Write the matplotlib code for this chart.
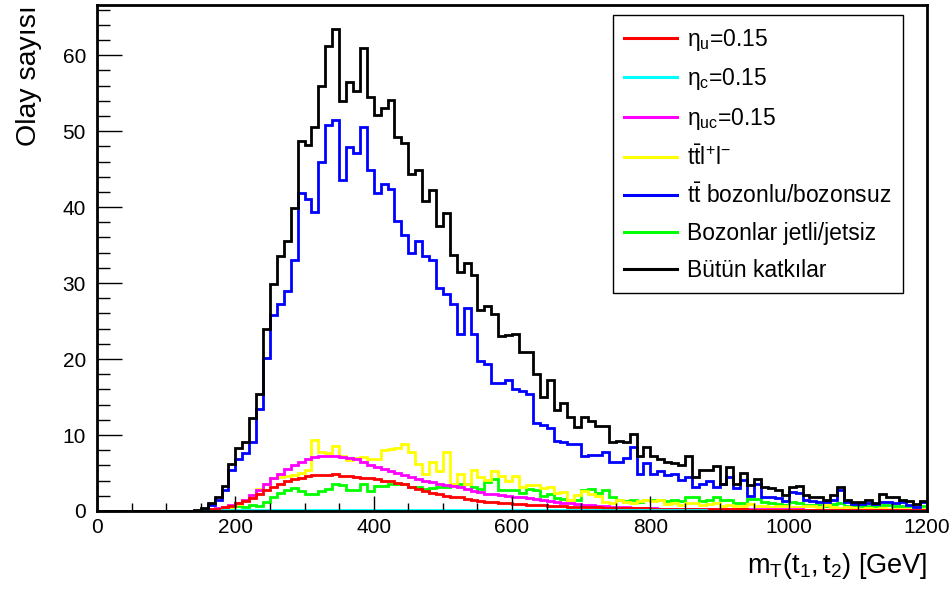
import numpy as np
import matplotlib
matplotlib.use("Agg")
import matplotlib.pyplot as plt
from matplotlib.ticker import MultipleLocator
from matplotlib.lines import Line2D

plt.rcParams['font.family'] = ['Liberation Sans', 'DejaVu Sans']
plt.rcParams['mathtext.fontset'] = 'custom'
plt.rcParams['mathtext.rm'] = 'Liberation Sans'
plt.rcParams['mathtext.it'] = 'Liberation Sans'
plt.rcParams['mathtext.bf'] = 'Liberation Sans:bold'

# 10 GeV bins from 0 to 1200 GeV
bin_edges = np.arange(0, 1210, 10)

eta_u = [0.0] * 15 + [
    0.1, 0.2, 0.3, 0.5, 0.7, 1.0, 1.3, 1.7, 2.2, 2.7,
    3.2, 3.6, 3.9, 4.2, 4.4, 4.6, 4.7, 4.8, 4.7, 4.9,
    4.6, 4.6, 4.5, 4.4, 4.3, 4.2, 4.0, 3.9, 3.7, 3.5,
    3.2, 2.9, 2.6, 2.4, 2.2, 2.0, 1.9, 1.8, 1.6, 1.5,
    1.35, 1.25, 1.15, 1.05, 1.0, 0.95, 0.9, 0.85, 0.8, 0.75,
    0.7, 0.66, 0.62, 0.58, 0.55, 0.52, 0.5, 0.47, 0.45, 0.42,
    0.4, 0.38, 0.36, 0.34, 0.33, 0.31, 0.3, 0.29, 0.28, 0.27,
    0.26, 0.25, 0.24, 0.23, 0.22, 0.22, 0.21, 0.2, 0.2, 0.19,
    0.18, 0.18, 0.17, 0.17, 0.16, 0.16, 0.15, 0.15, 0.14, 0.14,
    0.13, 0.13, 0.12, 0.12, 0.11, 0.11, 0.1, 0.1, 0.1, 0.09,
    0.09, 0.09, 0.08, 0.08, 0.08]

eta_c = [0.0] * 15 + [
    0.02, 0.04, 0.06, 0.08, 0.1, 0.12, 0.13, 0.14, 0.15, 0.15,
    0.16, 0.16, 0.16, 0.16, 0.16, 0.16, 0.16, 0.16, 0.16, 0.16,
    0.16, 0.16, 0.15, 0.15, 0.15, 0.15, 0.15, 0.15, 0.14, 0.14,
    0.14, 0.14, 0.14, 0.13, 0.13, 0.13, 0.13, 0.13, 0.12, 0.12,
    0.12, 0.12, 0.12, 0.11, 0.11, 0.11, 0.11, 0.11, 0.1, 0.1,
    0.1, 0.1, 0.1, 0.1, 0.09, 0.09, 0.09, 0.09, 0.09, 0.09,
    0.08, 0.08, 0.08, 0.08, 0.08, 0.08, 0.07, 0.07, 0.07, 0.07,
    0.07, 0.07, 0.07, 0.06, 0.06, 0.06, 0.06, 0.06, 0.06, 0.06,
    0.06, 0.05, 0.05, 0.05, 0.05, 0.05, 0.05, 0.05, 0.05, 0.05,
    0.05, 0.05, 0.04, 0.04, 0.04, 0.04, 0.04, 0.04, 0.04, 0.04,
    0.04, 0.04, 0.04, 0.04, 0.04]

eta_uc = [0.0] * 15 + [
    0.1, 0.2, 0.35, 0.5, 0.8, 1.1, 1.5, 2.1, 2.8, 3.6,
    4.3, 4.9, 5.5, 6.0, 6.5, 6.9, 7.1, 7.3, 7.2, 7.3,
    7.1, 7.0, 6.8, 6.5, 6.1, 5.8, 5.5, 5.2, 5.0, 4.7,
    4.5, 4.2, 4.0, 3.85, 3.6, 3.4, 3.3, 3.1, 2.85, 2.6,
    2.45, 2.3, 2.2, 2.1, 2.0, 1.9, 1.8, 1.7, 1.55, 1.45,
    1.35, 1.2, 1.1, 1.0, 0.9, 0.85, 0.75, 0.7, 0.62, 0.58,
    0.52, 0.48, 0.42, 0.38, 0.35, 0.33, 0.32, 0.31, 0.3, 0.3,
    0.29, 0.28, 0.28, 0.27, 0.26, 0.25, 0.25, 0.24, 0.24, 0.23,
    0.23, 0.22, 0.22, 0.21, 0.21, 0.2, 0.2, 0.19, 0.19, 0.18,
    0.18, 0.17, 0.17, 0.17, 0.16, 0.16, 0.15, 0.15, 0.15, 0.14,
    0.14, 0.14, 0.13, 0.13, 0.12]

ttll = [0.0] * 15 + [
    0.05, 0.1, 0.2, 0.3, 0.5, 0.9, 1.4, 2.0, 2.9, 3.5,
    4.4, 4.5, 4.6, 4.8, 5.0, 5.4, 9.3, 7.7, 7.6, 8.5,
    7.2, 6.7, 7.0, 7.1, 6.9, 6.8, 8.0, 8.1, 8.3, 8.8,
    7.8, 6.2, 4.9, 6.5, 5.3, 7.7, 3.6, 4.9, 3.5, 5.4,
    4.5, 4.1, 5.3, 4.6, 4.0, 4.6, 3.2, 3.4, 3.4, 3.0,
    3.1, 2.4, 2.5, 1.4, 2.1, 2.6, 2.3, 2.0, 1.2, 1.0,
    1.4, 1.2, 1.0, 1.3, 1.4, 1.3, 1.5, 0.9, 1.0, 0.8,
    1.1, 1.0, 0.8, 0.9, 1.0, 0.7, 0.8, 0.6, 0.7, 0.9,
    0.6, 0.7, 0.5, 0.6, 0.7, 0.5, 0.5, 0.6, 0.7, 0.5,
    0.8, 0.5, 0.4, 0.5, 0.4, 0.3, 0.4, 0.3, 0.4, 0.3,
    0.3, 0.2, 0.3, 0.2, 0.2]

ttbar = [0.0] * 15 + [
    0.3, 0.8, 1.4, 2.7, 5.4, 6.8, 7.6, 9.1, 13.4, 20.1,
    25.8, 27.3, 28.9, 33.0, 41.8, 41.1, 39.4, 45.9, 50.8, 51.5,
    43.6, 47.9, 47.1, 50.5, 44.9, 41.9, 43.0, 42.4, 38.2, 36.3,
    34.0, 35.5, 33.5, 33.0, 29.4, 28.6, 27.3, 23.3, 26.7, 23.3,
    19.7, 19.4, 16.9, 16.8, 17.3, 16.1, 15.8, 15.4, 11.6, 11.3,
    10.9, 9.2, 9.1, 8.8, 8.8, 7.3, 7.4, 7.4, 7.7, 6.4,
    6.5, 7.0, 8.4, 4.9, 6.3, 4.9, 5.2, 4.7, 4.9, 4.1,
    4.5, 3.2, 3.6, 4.0, 3.1, 3.5, 4.5, 3.0, 4.1, 2.0,
    3.6, 1.9, 1.8, 1.7, 1.3, 2.5, 2.4, 1.4, 1.3, 1.2,
    1.2, 1.5, 2.8, 1.2, 0.9, 0.9, 1.1, 0.9, 1.2, 1.2,
    1.1, 1.2, 0.8, 0.5, 1.2]

bosons = [0.0] * 15 + [
    0.05, 0.1, 0.15, 0.3, 0.4, 0.6, 0.5, 0.8, 0.7, 1.2,
    1.8, 2.4, 2.7, 3.0, 2.6, 2.3, 2.2, 2.6, 2.9, 3.5,
    3.4, 2.7, 2.8, 3.6, 2.6, 3.3, 3.3, 3.6, 3.5, 3.6,
    3.2, 3.1, 2.9, 3.0, 3.1, 3.2, 3.4, 3.6, 3.5, 3.2,
    2.9, 3.8, 4.2, 2.8, 2.8, 2.7, 2.4, 2.9, 2.8, 2.0,
    2.2, 1.7, 1.6, 1.4, 1.4, 2.8, 2.9, 2.4, 2.8, 1.8,
    1.4, 1.3, 1.4, 1.2, 1.4, 1.4, 1.4, 1.3, 1.4, 1.3,
    1.8, 1.8, 1.3, 1.5, 1.8, 1.4, 1.4, 1.1, 1.1, 1.6,
    1.6, 1.2, 1.0, 0.9, 0.8, 1.2, 1.1, 0.8, 0.8, 0.8,
    0.7, 0.9, 1.0, 0.7, 0.8, 0.6, 0.7, 0.7, 0.8, 0.8,
    0.6, 0.6, 0.6, 0.5, 0.6]

total = [0.0] * 14 + [
    0.1, 0.35, 1.1, 1.8, 3.3, 6.2, 8.3, 9.1, 12.2, 15.4,
    23.9, 29.9, 33.6, 35.6, 39.9, 48.7, 48.2, 50.5, 55.9, 61.2,
    63.5, 54.0, 56.4, 55.3, 61.0, 54.5, 52.1, 53.0, 54.1, 49.2,
    48.4, 44.3, 44.9, 40.8, 42.2, 37.5, 39.2, 33.7, 31.5, 32.6,
    31.1, 26.4, 27.0, 25.9, 23.0, 23.1, 23.3, 20.9, 20.9, 18.0,
    15.0, 17.3, 13.3, 14.2, 12.4, 11.1, 12.4, 11.9, 11.2, 11.2,
    9.1, 9.2, 9.1, 10.1, 7.3, 8.4, 7.2, 6.9, 6.5, 6.3,
    6.0, 7.3, 4.5, 5.4, 5.4, 5.9, 3.6, 5.8, 3.5, 5.0,
    3.4, 4.2, 3.1, 3.0, 2.7, 2.1, 3.2, 3.3, 2.1, 1.9,
    1.9, 1.5, 2.1, 3.2, 1.4, 1.2, 1.2, 1.5, 1.0, 2.2,
    1.9, 1.8, 1.4, 1.3, 0.9, 1.3]

series = [
    (eta_u, '#ff0000', r'$\eta_{u}$=0.15'),
    (eta_c, '#00ffff', r'$\eta_{c}$=0.15'),
    (eta_uc, '#ff00ff', r'$\eta_{uc}$=0.15'),
    (ttll, '#ffff00', r'$\mathregular{t\bar{t}l^{+}l^{-}}$'),
    (ttbar, '#0000ff', r'$\mathregular{t\bar{t}}$ bozonlu/bozonsuz'),
    (bosons, '#00ff00', 'Bozonlar jetli/jetsiz'),
    (total, '#000000', 'Bütün katkılar'),
]

fig = plt.figure(figsize=(9.53, 5.90), dpi=100)
ax = fig.add_axes([97 / 953, 79 / 590, 830 / 953, 506 / 590])

draw_order = [5, 3, 2, 0, 4, 1, 6]
for i in draw_order:
    vals, col, lab = series[i]
    ax.stairs(vals, bin_edges, color=col, linewidth=2.0, baseline=None)

ax.set_xlim(0, 1200)
ax.set_ylim(0, 66.6)

ax.xaxis.set_major_locator(MultipleLocator(200))
ax.xaxis.set_minor_locator(MultipleLocator(50))
ax.yaxis.set_major_locator(MultipleLocator(10))
ax.yaxis.set_minor_locator(MultipleLocator(2))
ax.tick_params(axis='x', which='major', direction='in', length=11, width=1,
               labelsize=15, pad=5)
ax.tick_params(axis='x', which='minor', direction='in', length=5.5, width=1)
ax.tick_params(axis='y', which='major', direction='in', length=18, width=1,
               labelsize=15, pad=8)
ax.tick_params(axis='y', which='minor', direction='in', length=9, width=1)
for s in ax.spines.values():
    s.set_linewidth(2)

ax.set_xlabel(r'$\mathregular{m_{T}(t_{1},t_{2})}$ [GeV]', fontsize=19.5,
              loc='right', labelpad=10)
ax.set_ylabel('Olay sayısı', fontsize=20.5, loc='top', labelpad=15)

leg_handles = [Line2D([], [], color=series[i][1], linewidth=2.2) for i in range(7)]
leg_labels = [series[i][2] for i in range(7)]
leg = ax.legend(leg_handles, leg_labels, loc='upper right',
                bbox_to_anchor=(0.971, 0.98), fontsize=16.5, frameon=True,
                fancybox=False, edgecolor='black', framealpha=1,
                handlelength=2.3, handletextpad=0.45, labelspacing=0.6,
                borderpad=0.5, borderaxespad=0)
leg.get_frame().set_linewidth(1)

fig.savefig('out.png', dpi=100)
